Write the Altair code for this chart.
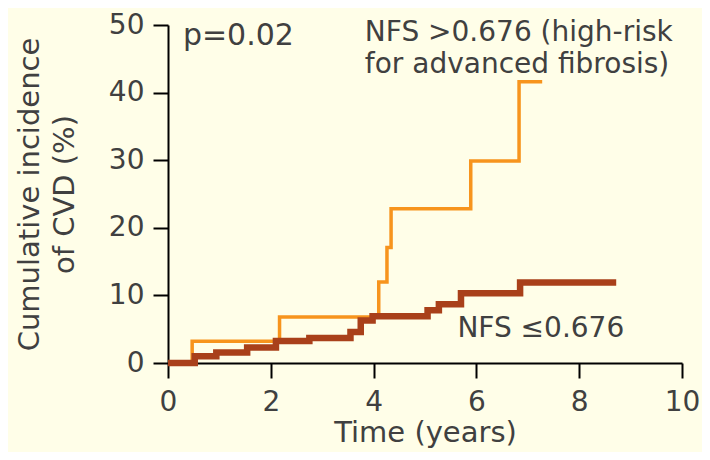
import altair as alt
import pandas as pd

# High-risk group (NFS > 0.676)
hi_t = [0, 0.47, 2.17, 4.10, 4.26, 4.34, 5.89, 6.83, 7.28]
hi_y = [0, 3.2, 6.8, 12.0, 17.1, 22.8, 29.9, 41.6, 41.6]
# Low-risk group (NFS <= 0.676)
lo_t = [0, 0.52, 0.94, 1.54, 2.10, 2.75, 3.55, 3.75, 3.98, 5.05, 5.27, 5.70, 6.85, 8.72]
lo_y = [0, 1.0, 1.55, 2.3, 3.25, 3.7, 4.6, 6.3, 6.9, 7.8, 8.7, 10.3, 11.9, 11.9]

x_ticks = [0, 2, 4, 6, 8, 10]
y_ticks = [0, 10, 20, 30, 40, 50]

ann_text = ["p=0.02", "NFS >0.676 (high-risk", "for advanced fibrosis)", "NFS \u22640.676"]
ann_x = [0.29, 3.83, 3.83, 5.63]
ann_y = [47.1, 47.7, 42.9, 3.8]
ann_size = [30, 28, 28, 28]

TEXT = "#404040"
ORANGE = "#F7941D"
BROWN = "#A9401A"
BG = "#FFFEE8"
FONT = "DejaVu Sans"

hi = pd.DataFrame({"t": hi_t, "y": hi_y})
lo = pd.DataFrame({"t": lo_t, "y": lo_y})
ann = pd.DataFrame({"x": ann_x, "y": ann_y, "text": ann_text, "size": ann_size})

xscale = alt.Scale(domain=[0, 10], nice=False, zero=False)
yscale = alt.Scale(domain=[0, 50], nice=False)

xaxis = alt.Axis(values=x_ticks, title="Time (years)", labelPadding=10, titlePadding=2,
                 labelFlush=False)
yaxis = alt.Axis(values=y_ticks, title=["Cumulative incidence", "of CVD (%)"],
                 labelPadding=9, titlePadding=29, titleLineHeight=35, labelFlush=False)

base_x = alt.X("t:Q", scale=xscale, axis=xaxis)
base_y = alt.Y("y:Q", scale=yscale, axis=yaxis)

hi_line = alt.Chart(hi).mark_line(interpolate="step-after", color=ORANGE, strokeWidth=3.5,
                                  strokeCap="butt").encode(x=base_x, y=base_y)
lo_line = alt.Chart(lo).mark_line(interpolate="step-after", color=BROWN, strokeWidth=6.5,
                                  strokeCap="butt").encode(x="t:Q", y="y:Q")

texts = alt.Chart(ann).mark_text(align="left", baseline="alphabetic", font=FONT,
                                 color=TEXT).encode(
    x=alt.X("x:Q"), y=alt.Y("y:Q"), text="text:N",
    size=alt.Size("size:Q", scale=None, legend=None)
)

chart = alt.layer(hi_line, lo_line, texts).properties(
    width=514, height=338,
    autosize=alt.AutoSizeParams(type="none"),
    padding={"left": 160, "top": 17, "right": 20, "bottom": 89},
    background=BG,
).configure_view(stroke=None).configure_axis(
    grid=False,
    domainColor="black", domainWidth=2,
    tickColor="black", tickWidth=2, tickSize=15,
    labelFont=FONT, labelFontSize=28, labelColor=TEXT,
    titleFont=FONT, titleFontSize=29, titleColor=TEXT, titleFontWeight="normal",
)

chart.save("out.html", embed_options={"renderer": "svg", "actions": False})
